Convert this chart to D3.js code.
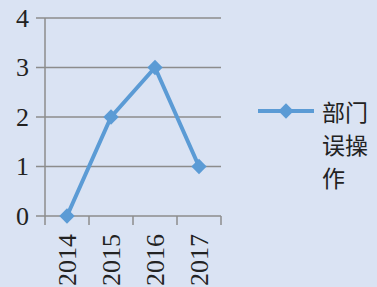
<!DOCTYPE html>
<html>
<head>
<meta charset="utf-8">
<script src="https://cdn.jsdelivr.net/npm/d3@7"></script>
<style>
  html, body { margin: 0; padding: 0; background: #dae3f3; }
  svg { display: block; }
</style>
</head>
<body>
<svg id="viz" width="377" height="287"></svg>
<script>
// data
const years  = ["2014", "2015", "2016", "2017"];
const values = [0, 2, 3, 1];
const yTicks = [0, 1, 2, 3, 4];
const seriesName = ["部门", "误操", "作"];

const W = 377, H = 287;
const LINE = "#5b9bd5", GRID = "#8c8c8c";

const svg = d3.select("#viz");

const x = d3.scaleBand().domain(years).range([45, 221]);
const y = d3.scaleLinear().domain([0, 4]).range([216, 18]);

// gridlines (extend left past the axis as ticks)
svg.append("g").selectAll("line")
  .data(yTicks)
  .join("line")
    .attr("x1", 36).attr("x2", 221)
    .attr("y1", d => y(d)).attr("y2", d => y(d))
    .attr("stroke", GRID).attr("stroke-width", 1.5);

// y axis line
svg.append("line")
  .attr("x1", 45).attr("x2", 45)
  .attr("y1", y(4)).attr("y2", y(0))
  .attr("stroke", GRID).attr("stroke-width", 1.5);

// x tick marks at band edges
const edges = years.map(d => x(d)).concat([x.range()[1]]);
svg.append("g").selectAll("line")
  .data(edges)
  .join("line")
    .attr("x1", d => d).attr("x2", d => d)
    .attr("y1", y(0)).attr("y2", y(0) + 9)
    .attr("stroke", GRID).attr("stroke-width", 1.5);

// y labels
svg.append("g").selectAll("text")
  .data(yTicks)
  .join("text")
    .attr("x", 29).attr("y", d => y(d))
    .attr("text-anchor", "end")
    .attr("dominant-baseline", "central")
    .attr("font-family", "'Liberation Serif', 'DejaVu Serif', serif")
    .attr("font-size", 26)
    .attr("fill", "#222")
    .text(d => d);

// x labels, rotated
svg.append("g").selectAll("text")
  .data(years)
  .join("text")
    .attr("transform", d => `translate(${x(d) + x.bandwidth() / 2},234) rotate(-90)`)
    .attr("text-anchor", "end")
    .attr("dominant-baseline", "central")
    .attr("font-family", "'Liberation Serif', 'DejaVu Serif', serif")
    .attr("font-size", 26)
    .attr("fill", "#222")
    .text(d => d);

// series line
const cx = d => x(d) + x.bandwidth() / 2;
svg.append("path")
  .datum(values)
  .attr("fill", "none")
  .attr("stroke", LINE)
  .attr("stroke-width", 4)
  .attr("stroke-linejoin", "round")
  .attr("d", d3.line().x((_, i) => cx(years[i])).y(v => y(v)));

const diamond = d3.symbol().type(d3.symbolDiamond2).size(150);
svg.append("g").selectAll("path")
  .data(values)
  .join("path")
    .attr("transform", (v, i) => `translate(${cx(years[i])},${y(v)})`)
    .attr("d", diamond)
    .attr("fill", LINE);

// legend
const ly = 111;
svg.append("line")
  .attr("x1", 258).attr("x2", 314)
  .attr("y1", ly).attr("y2", ly)
  .attr("stroke", LINE).attr("stroke-width", 4);
svg.append("path")
  .attr("transform", `translate(286,${ly})`)
  .attr("d", diamond)
  .attr("fill", LINE);

svg.append("g").selectAll("text")
  .data(seriesName)
  .join("text")
    .attr("x", 322).attr("y", (_, i) => ly + i * 33)
    .attr("dominant-baseline", "central")
    .attr("font-family", "'Noto Sans CJK SC', sans-serif")
    .attr("font-size", 23)
    .attr("fill", "#222")
    .text(d => d);
</script>
</body>
</html>
